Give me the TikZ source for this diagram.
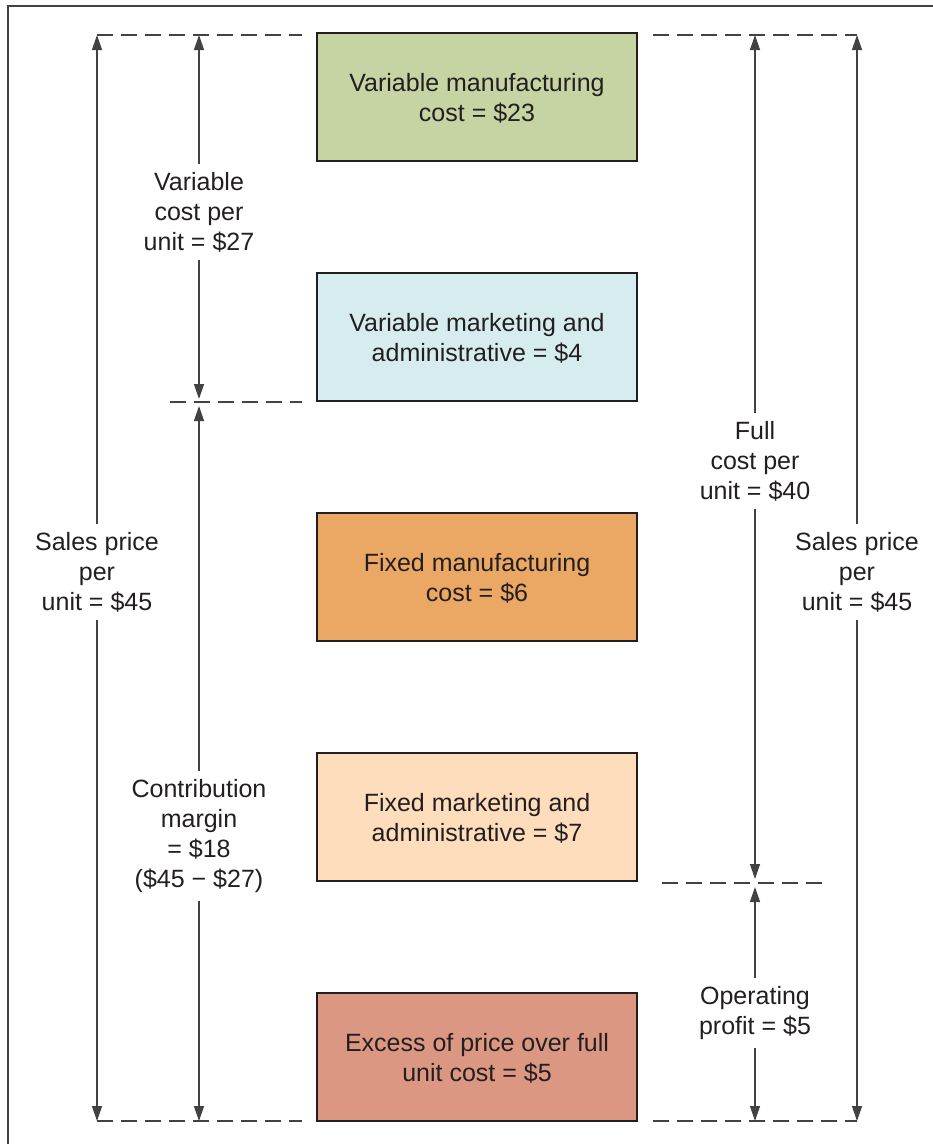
\documentclass[tikz,border=0pt]{standalone}
\usepackage{fontspec}
\setmainfont{Liberation Sans}
\usepackage{tikz}
\usetikzlibrary{arrows.meta,positioning}

\definecolor{vmfg}{HTML}{C5D4A2}
\definecolor{vadm}{HTML}{D6ECEE}
\definecolor{fmfg}{HTML}{EBA865}
\definecolor{fadm}{HTML}{FDDDBB}
\definecolor{excess}{HTML}{DB9782}
\definecolor{ink}{HTML}{231F20}

\tikzset{
	costbox/.style={draw=ink, line width=1.2pt, minimum width=320pt, minimum height=128pt, inner sep=0pt, text depth=0pt, align=center},
	lbl/.style={align=center, inner sep=8pt},
	guide/.style={draw=ink!85, line width=1.3pt, dash pattern=on 16pt off 8pt},
	dimline/.style={draw=ink!85, line width=1.3pt, -{Triangle[length=15pt,width=10pt]}}
}

\begin{document}
\begin{tikzpicture}[x=1pt,y=-1pt,font=\fontsize{25}{30}\selectfont,text=ink]
			\useasboundingbox (0,0) rectangle (933,1144);
			\fill[white] (0,0) rectangle (933,1144);
			\draw[ink!85, line width=1.5pt] (8,1150) -- (8,6) -- (940,6);

			\node[costbox, fill=vmfg] (vmfg) at (477,97) {Variable manufacturing\\cost = \$23};
			\node[costbox, fill=vadm] (vadm) at (477,337) {Variable marketing and\\administrative = \$4};
			\node[costbox, fill=fmfg] (fmfg) at (477,577) {Fixed manufacturing\\cost = \$6};
			\node[costbox, fill=fadm] (fadm) at (477,817) {Fixed marketing and\\administrative = \$7};
			\node[costbox, fill=excess] (excess) at (477,1057) {Excess of price over full\\unit cost = \$5};

			% guide lines
			\coordinate (tl) at (97,35);
			\coordinate (tr) at (857,35);
			\coordinate (bl) at (97,1121);
			\coordinate (br) at (857,1121);
			\draw[guide] (tl) -- (302,35);
			\draw[guide] (653,35) -- (tr);
			\draw[guide] (bl) -- (302,1121);
			\draw[guide] (653,1121) -- (br);
			\draw[guide] (170,402) -- (302,402);
			\draw[guide] (662,883) -- (822,883);

			% labels
			\node[lbl] (salesL) at (97,572) {Sales price\\per\\unit = \$45};
			\node[lbl] (varcost) at (199,212) {Variable\\cost per\\unit = \$27};
			\node[lbl] (contrib) at (199,836) {Contribution\\margin\\= \$18\\(\$45 − \$27)};
			\node[lbl] (fullcost) at (755,461) {Full\\cost per\\unit = \$40};
			\node[lbl] (profit) at (755,1013) {Operating\\profit = \$5};
			\node[lbl] (salesR) at (857,572) {Sales price\\per\\unit = \$45};

			% dimension arrows
			\draw[dimline] (salesL) -- (tl);
			\draw[dimline] (salesL) -- (bl);
			\draw[dimline] (varcost) -- (199,35);
			\draw[dimline] (varcost) -- (199,399);
			\draw[dimline] (contrib) -- (199,406);
			\draw[dimline] (contrib) -- (199,1121);
			\draw[dimline] (fullcost) -- (755,35);
			\draw[dimline] (fullcost) -- (755,879);
			\draw[dimline] (profit) -- (755,887);
			\draw[dimline] (profit) -- (755,1121);
			\draw[dimline] (salesR) -- (tr);
			\draw[dimline] (salesR) -- (br);
		\end{tikzpicture}
\end{document}
